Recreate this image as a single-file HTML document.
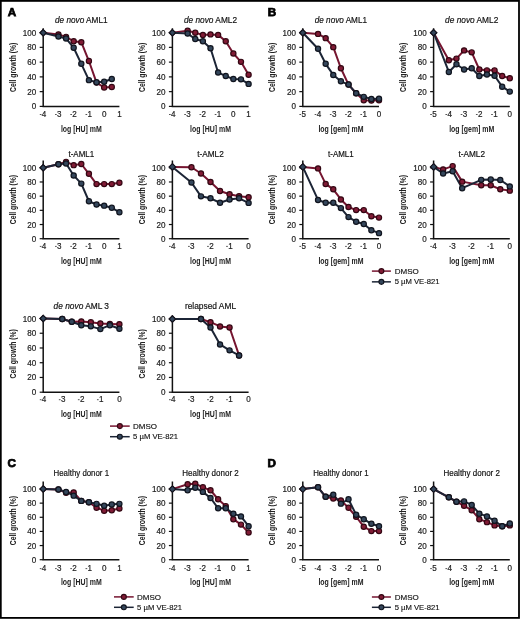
<!DOCTYPE html>
<html><head><meta charset="utf-8"><style>
html,body{margin:0;padding:0;background:#fff;}
body{width:520px;height:619px;overflow:hidden;}
svg{display:block;font-family:"Liberation Sans",sans-serif;will-change:transform;}
</style></head><body>
<svg width="520" height="619" viewBox="0 0 520 619" font-family="Liberation Sans, sans-serif">
<rect x="0" y="0" width="520" height="619" fill="#fff"/>
<text x="81.3" y="23" textLength="52.6" lengthAdjust="spacingAndGlyphs" font-size="8.8" text-anchor="middle" fill="#111" stroke="#111" stroke-width="0.18"><tspan font-style="italic">de novo</tspan> AML1</text>
<text transform="translate(15.7,67.35) rotate(-90) scale(0.79,1)" font-size="8.6" font-weight="bold" text-anchor="middle" fill="#222">Cell growth (%)</text>
<line x1="39.7" y1="106.4" x2="43.2" y2="106.4" stroke="#111" stroke-width="1.2"/>
<text transform="translate(36.3,109.4) scale(0.92,1)" font-size="8.8" text-anchor="end" fill="#222" stroke="#222" stroke-width="0.2">0</text>
<line x1="39.7" y1="91.64" x2="43.2" y2="91.64" stroke="#111" stroke-width="1.2"/>
<text transform="translate(36.3,94.64) scale(0.92,1)" font-size="8.8" text-anchor="end" fill="#222" stroke="#222" stroke-width="0.2">20</text>
<line x1="39.7" y1="76.88" x2="43.2" y2="76.88" stroke="#111" stroke-width="1.2"/>
<text transform="translate(36.3,79.88) scale(0.92,1)" font-size="8.8" text-anchor="end" fill="#222" stroke="#222" stroke-width="0.2">40</text>
<line x1="39.7" y1="62.12" x2="43.2" y2="62.12" stroke="#111" stroke-width="1.2"/>
<text transform="translate(36.3,65.12) scale(0.92,1)" font-size="8.8" text-anchor="end" fill="#222" stroke="#222" stroke-width="0.2">60</text>
<line x1="39.7" y1="47.36" x2="43.2" y2="47.36" stroke="#111" stroke-width="1.2"/>
<text transform="translate(36.3,50.36) scale(0.92,1)" font-size="8.8" text-anchor="end" fill="#222" stroke="#222" stroke-width="0.2">80</text>
<line x1="39.7" y1="32.6" x2="43.2" y2="32.6" stroke="#111" stroke-width="1.2"/>
<text transform="translate(36.3,35.6) scale(0.92,1)" font-size="8.8" text-anchor="end" fill="#222" stroke="#222" stroke-width="0.2">100</text>
<path d="M43.2 28.3V106.4H119.4" fill="none" stroke="#111" stroke-width="1.5"/>
<text transform="translate(44.1,117) scale(0.92,1)" font-size="8.8" text-anchor="middle" fill="#222" stroke="#222" stroke-width="0.2">4</text>
<rect x="39.8" y="114" width="1.7" height="1" fill="#555"/>
<text transform="translate(59.34,117) scale(0.92,1)" font-size="8.8" text-anchor="middle" fill="#222" stroke="#222" stroke-width="0.2">3</text>
<rect x="55.04" y="114" width="1.7" height="1" fill="#555"/>
<text transform="translate(74.58,117) scale(0.92,1)" font-size="8.8" text-anchor="middle" fill="#222" stroke="#222" stroke-width="0.2">2</text>
<rect x="70.28" y="114" width="1.7" height="1" fill="#555"/>
<text transform="translate(89.82,117) scale(0.92,1)" font-size="8.8" text-anchor="middle" fill="#222" stroke="#222" stroke-width="0.2">1</text>
<rect x="85.52" y="114" width="1.7" height="1" fill="#555"/>
<text transform="translate(104.16,117) scale(0.92,1)" font-size="8.8" text-anchor="middle" fill="#222" stroke="#222" stroke-width="0.2">0</text>
<text transform="translate(119.4,117) scale(0.92,1)" font-size="8.8" text-anchor="middle" fill="#222" stroke="#222" stroke-width="0.2">1</text>
<text transform="translate(81.3,131.6) scale(0.78,1)" font-size="8.9" font-weight="bold" text-anchor="middle" fill="#222">log [HU] mM</text>
<polyline points="43.2,32.76 58.44,34.39 66.06,36.84 73.68,41.25 81.3,42.24 88.92,61.03 96.54,82.61 104.16,87.51 111.78,87.02" fill="none" stroke="#761530" stroke-width="2" stroke-linejoin="round"/>
<polyline points="43.2,32.76 58.44,36.51 66.06,38.48 73.68,47.79 81.3,63.81 88.92,80.16 96.54,82.28 104.16,81.79 111.78,79.01" fill="none" stroke="#1c2536" stroke-width="2" stroke-linejoin="round"/>
<path d="M43.2 29.56L46.4 32.76L43.2 35.96L40 32.76Z" fill="#801b35" stroke="#330713" stroke-width="1.1"/>
<circle cx="58.44" cy="34.39" r="2.6" fill="#801b35" stroke="#330713" stroke-width="1.2"/>
<circle cx="66.06" cy="36.84" r="2.6" fill="#801b35" stroke="#330713" stroke-width="1.2"/>
<circle cx="73.68" cy="41.25" r="2.6" fill="#801b35" stroke="#330713" stroke-width="1.2"/>
<circle cx="81.3" cy="42.24" r="2.6" fill="#801b35" stroke="#330713" stroke-width="1.2"/>
<circle cx="88.92" cy="61.03" r="2.6" fill="#801b35" stroke="#330713" stroke-width="1.2"/>
<circle cx="96.54" cy="82.61" r="2.6" fill="#801b35" stroke="#330713" stroke-width="1.2"/>
<circle cx="104.16" cy="87.51" r="2.6" fill="#801b35" stroke="#330713" stroke-width="1.2"/>
<circle cx="111.78" cy="87.02" r="2.6" fill="#801b35" stroke="#330713" stroke-width="1.2"/>
<path d="M43.2 29.56L46.4 32.76L43.2 35.96L40 32.76Z" fill="#34465b" stroke="#10141e" stroke-width="1.1"/>
<circle cx="58.44" cy="36.51" r="2.6" fill="#34465b" stroke="#10141e" stroke-width="1.2"/>
<circle cx="66.06" cy="38.48" r="2.6" fill="#34465b" stroke="#10141e" stroke-width="1.2"/>
<circle cx="73.68" cy="47.79" r="2.6" fill="#34465b" stroke="#10141e" stroke-width="1.2"/>
<circle cx="81.3" cy="63.81" r="2.6" fill="#34465b" stroke="#10141e" stroke-width="1.2"/>
<circle cx="88.92" cy="80.16" r="2.6" fill="#34465b" stroke="#10141e" stroke-width="1.2"/>
<circle cx="96.54" cy="82.28" r="2.6" fill="#34465b" stroke="#10141e" stroke-width="1.2"/>
<circle cx="104.16" cy="81.79" r="2.6" fill="#34465b" stroke="#10141e" stroke-width="1.2"/>
<circle cx="111.78" cy="79.01" r="2.6" fill="#34465b" stroke="#10141e" stroke-width="1.2"/>
<text x="210.5" y="23" textLength="53.1" lengthAdjust="spacingAndGlyphs" font-size="8.8" text-anchor="middle" fill="#111" stroke="#111" stroke-width="0.18"><tspan font-style="italic">de novo</tspan> AML2</text>
<text transform="translate(144.9,67.35) rotate(-90) scale(0.79,1)" font-size="8.6" font-weight="bold" text-anchor="middle" fill="#222">Cell growth (%)</text>
<line x1="168.9" y1="106.4" x2="172.4" y2="106.4" stroke="#111" stroke-width="1.2"/>
<text transform="translate(165.5,109.4) scale(0.92,1)" font-size="8.8" text-anchor="end" fill="#222" stroke="#222" stroke-width="0.2">0</text>
<line x1="168.9" y1="91.64" x2="172.4" y2="91.64" stroke="#111" stroke-width="1.2"/>
<text transform="translate(165.5,94.64) scale(0.92,1)" font-size="8.8" text-anchor="end" fill="#222" stroke="#222" stroke-width="0.2">20</text>
<line x1="168.9" y1="76.88" x2="172.4" y2="76.88" stroke="#111" stroke-width="1.2"/>
<text transform="translate(165.5,79.88) scale(0.92,1)" font-size="8.8" text-anchor="end" fill="#222" stroke="#222" stroke-width="0.2">40</text>
<line x1="168.9" y1="62.12" x2="172.4" y2="62.12" stroke="#111" stroke-width="1.2"/>
<text transform="translate(165.5,65.12) scale(0.92,1)" font-size="8.8" text-anchor="end" fill="#222" stroke="#222" stroke-width="0.2">60</text>
<line x1="168.9" y1="47.36" x2="172.4" y2="47.36" stroke="#111" stroke-width="1.2"/>
<text transform="translate(165.5,50.36) scale(0.92,1)" font-size="8.8" text-anchor="end" fill="#222" stroke="#222" stroke-width="0.2">80</text>
<line x1="168.9" y1="32.6" x2="172.4" y2="32.6" stroke="#111" stroke-width="1.2"/>
<text transform="translate(165.5,35.6) scale(0.92,1)" font-size="8.8" text-anchor="end" fill="#222" stroke="#222" stroke-width="0.2">100</text>
<path d="M172.4 28.3V106.4H248.6" fill="none" stroke="#111" stroke-width="1.5"/>
<text transform="translate(173.3,117) scale(0.92,1)" font-size="8.8" text-anchor="middle" fill="#222" stroke="#222" stroke-width="0.2">4</text>
<rect x="169" y="114" width="1.7" height="1" fill="#555"/>
<text transform="translate(188.54,117) scale(0.92,1)" font-size="8.8" text-anchor="middle" fill="#222" stroke="#222" stroke-width="0.2">3</text>
<rect x="184.24" y="114" width="1.7" height="1" fill="#555"/>
<text transform="translate(203.78,117) scale(0.92,1)" font-size="8.8" text-anchor="middle" fill="#222" stroke="#222" stroke-width="0.2">2</text>
<rect x="199.48" y="114" width="1.7" height="1" fill="#555"/>
<text transform="translate(219.02,117) scale(0.92,1)" font-size="8.8" text-anchor="middle" fill="#222" stroke="#222" stroke-width="0.2">1</text>
<rect x="214.72" y="114" width="1.7" height="1" fill="#555"/>
<text transform="translate(233.36,117) scale(0.92,1)" font-size="8.8" text-anchor="middle" fill="#222" stroke="#222" stroke-width="0.2">0</text>
<text transform="translate(248.6,117) scale(0.92,1)" font-size="8.8" text-anchor="middle" fill="#222" stroke="#222" stroke-width="0.2">1</text>
<text transform="translate(210.5,131.6) scale(0.78,1)" font-size="8.9" font-weight="bold" text-anchor="middle" fill="#222">log [HU] mM</text>
<polyline points="172.4,32.76 187.64,30.79 195.26,32.76 202.88,34.88 210.5,34.39 218.12,34.88 225.74,41.25 233.36,53.51 240.98,61.85 248.6,74.76" fill="none" stroke="#761530" stroke-width="2" stroke-linejoin="round"/>
<polyline points="172.4,32.76 187.64,33.57 195.26,38.97 202.88,41.25 210.5,48.28 218.12,72.47 225.74,76.07 233.36,79.01 240.98,79.34 248.6,83.92" fill="none" stroke="#1c2536" stroke-width="2" stroke-linejoin="round"/>
<path d="M172.4 29.56L175.6 32.76L172.4 35.96L169.2 32.76Z" fill="#801b35" stroke="#330713" stroke-width="1.1"/>
<circle cx="187.64" cy="30.79" r="2.6" fill="#801b35" stroke="#330713" stroke-width="1.2"/>
<circle cx="195.26" cy="32.76" r="2.6" fill="#801b35" stroke="#330713" stroke-width="1.2"/>
<circle cx="202.88" cy="34.88" r="2.6" fill="#801b35" stroke="#330713" stroke-width="1.2"/>
<circle cx="210.5" cy="34.39" r="2.6" fill="#801b35" stroke="#330713" stroke-width="1.2"/>
<circle cx="218.12" cy="34.88" r="2.6" fill="#801b35" stroke="#330713" stroke-width="1.2"/>
<circle cx="225.74" cy="41.25" r="2.6" fill="#801b35" stroke="#330713" stroke-width="1.2"/>
<circle cx="233.36" cy="53.51" r="2.6" fill="#801b35" stroke="#330713" stroke-width="1.2"/>
<circle cx="240.98" cy="61.85" r="2.6" fill="#801b35" stroke="#330713" stroke-width="1.2"/>
<circle cx="248.6" cy="74.76" r="2.6" fill="#801b35" stroke="#330713" stroke-width="1.2"/>
<path d="M172.4 29.56L175.6 32.76L172.4 35.96L169.2 32.76Z" fill="#34465b" stroke="#10141e" stroke-width="1.1"/>
<circle cx="187.64" cy="33.57" r="2.6" fill="#34465b" stroke="#10141e" stroke-width="1.2"/>
<circle cx="195.26" cy="38.97" r="2.6" fill="#34465b" stroke="#10141e" stroke-width="1.2"/>
<circle cx="202.88" cy="41.25" r="2.6" fill="#34465b" stroke="#10141e" stroke-width="1.2"/>
<circle cx="210.5" cy="48.28" r="2.6" fill="#34465b" stroke="#10141e" stroke-width="1.2"/>
<circle cx="218.12" cy="72.47" r="2.6" fill="#34465b" stroke="#10141e" stroke-width="1.2"/>
<circle cx="225.74" cy="76.07" r="2.6" fill="#34465b" stroke="#10141e" stroke-width="1.2"/>
<circle cx="233.36" cy="79.01" r="2.6" fill="#34465b" stroke="#10141e" stroke-width="1.2"/>
<circle cx="240.98" cy="79.34" r="2.6" fill="#34465b" stroke="#10141e" stroke-width="1.2"/>
<circle cx="248.6" cy="83.92" r="2.6" fill="#34465b" stroke="#10141e" stroke-width="1.2"/>
<text x="340.9" y="23" textLength="52.3" lengthAdjust="spacingAndGlyphs" font-size="8.8" text-anchor="middle" fill="#111" stroke="#111" stroke-width="0.18"><tspan font-style="italic">de novo</tspan> AML1</text>
<text transform="translate(275.3,67.35) rotate(-90) scale(0.79,1)" font-size="8.6" font-weight="bold" text-anchor="middle" fill="#222">Cell growth (%)</text>
<line x1="299.3" y1="106.4" x2="302.8" y2="106.4" stroke="#111" stroke-width="1.2"/>
<text transform="translate(295.9,109.4) scale(0.92,1)" font-size="8.8" text-anchor="end" fill="#222" stroke="#222" stroke-width="0.2">0</text>
<line x1="299.3" y1="91.64" x2="302.8" y2="91.64" stroke="#111" stroke-width="1.2"/>
<text transform="translate(295.9,94.64) scale(0.92,1)" font-size="8.8" text-anchor="end" fill="#222" stroke="#222" stroke-width="0.2">20</text>
<line x1="299.3" y1="76.88" x2="302.8" y2="76.88" stroke="#111" stroke-width="1.2"/>
<text transform="translate(295.9,79.88) scale(0.92,1)" font-size="8.8" text-anchor="end" fill="#222" stroke="#222" stroke-width="0.2">40</text>
<line x1="299.3" y1="62.12" x2="302.8" y2="62.12" stroke="#111" stroke-width="1.2"/>
<text transform="translate(295.9,65.12) scale(0.92,1)" font-size="8.8" text-anchor="end" fill="#222" stroke="#222" stroke-width="0.2">60</text>
<line x1="299.3" y1="47.36" x2="302.8" y2="47.36" stroke="#111" stroke-width="1.2"/>
<text transform="translate(295.9,50.36) scale(0.92,1)" font-size="8.8" text-anchor="end" fill="#222" stroke="#222" stroke-width="0.2">80</text>
<line x1="299.3" y1="32.6" x2="302.8" y2="32.6" stroke="#111" stroke-width="1.2"/>
<text transform="translate(295.9,35.6) scale(0.92,1)" font-size="8.8" text-anchor="end" fill="#222" stroke="#222" stroke-width="0.2">100</text>
<path d="M302.8 28.3V106.4H379" fill="none" stroke="#111" stroke-width="1.5"/>
<text transform="translate(303.7,117) scale(0.92,1)" font-size="8.8" text-anchor="middle" fill="#222" stroke="#222" stroke-width="0.2">5</text>
<rect x="299.4" y="114" width="1.7" height="1" fill="#555"/>
<text transform="translate(318.94,117) scale(0.92,1)" font-size="8.8" text-anchor="middle" fill="#222" stroke="#222" stroke-width="0.2">4</text>
<rect x="314.64" y="114" width="1.7" height="1" fill="#555"/>
<text transform="translate(334.18,117) scale(0.92,1)" font-size="8.8" text-anchor="middle" fill="#222" stroke="#222" stroke-width="0.2">3</text>
<rect x="329.88" y="114" width="1.7" height="1" fill="#555"/>
<text transform="translate(349.42,117) scale(0.92,1)" font-size="8.8" text-anchor="middle" fill="#222" stroke="#222" stroke-width="0.2">2</text>
<rect x="345.12" y="114" width="1.7" height="1" fill="#555"/>
<text transform="translate(364.66,117) scale(0.92,1)" font-size="8.8" text-anchor="middle" fill="#222" stroke="#222" stroke-width="0.2">1</text>
<rect x="360.36" y="114" width="1.7" height="1" fill="#555"/>
<text transform="translate(379,117) scale(0.92,1)" font-size="8.8" text-anchor="middle" fill="#222" stroke="#222" stroke-width="0.2">0</text>
<text transform="translate(340.9,131.6) scale(0.78,1)" font-size="8.9" font-weight="bold" text-anchor="middle" fill="#222">log [gem] mM</text>
<polyline points="302.8,32.76 318.04,33.9 325.66,38.15 333.28,47.14 340.9,68.22 348.52,84.57 356.14,93.23 363.76,100.26 371.38,100.59 379,100.26" fill="none" stroke="#761530" stroke-width="2" stroke-linejoin="round"/>
<polyline points="302.8,32.76 318.04,48.77 325.66,63.81 333.28,74.93 340.9,81.3 348.52,84.57 356.14,93.23 363.76,96.83 371.38,98.95 379,98.63" fill="none" stroke="#1c2536" stroke-width="2" stroke-linejoin="round"/>
<path d="M302.8 29.56L306 32.76L302.8 35.96L299.6 32.76Z" fill="#801b35" stroke="#330713" stroke-width="1.1"/>
<circle cx="318.04" cy="33.9" r="2.6" fill="#801b35" stroke="#330713" stroke-width="1.2"/>
<circle cx="325.66" cy="38.15" r="2.6" fill="#801b35" stroke="#330713" stroke-width="1.2"/>
<circle cx="333.28" cy="47.14" r="2.6" fill="#801b35" stroke="#330713" stroke-width="1.2"/>
<circle cx="340.9" cy="68.22" r="2.6" fill="#801b35" stroke="#330713" stroke-width="1.2"/>
<circle cx="348.52" cy="84.57" r="2.6" fill="#801b35" stroke="#330713" stroke-width="1.2"/>
<circle cx="356.14" cy="93.23" r="2.6" fill="#801b35" stroke="#330713" stroke-width="1.2"/>
<circle cx="363.76" cy="100.26" r="2.6" fill="#801b35" stroke="#330713" stroke-width="1.2"/>
<circle cx="371.38" cy="100.59" r="2.6" fill="#801b35" stroke="#330713" stroke-width="1.2"/>
<circle cx="379" cy="100.26" r="2.6" fill="#801b35" stroke="#330713" stroke-width="1.2"/>
<path d="M302.8 29.56L306 32.76L302.8 35.96L299.6 32.76Z" fill="#34465b" stroke="#10141e" stroke-width="1.1"/>
<circle cx="318.04" cy="48.77" r="2.6" fill="#34465b" stroke="#10141e" stroke-width="1.2"/>
<circle cx="325.66" cy="63.81" r="2.6" fill="#34465b" stroke="#10141e" stroke-width="1.2"/>
<circle cx="333.28" cy="74.93" r="2.6" fill="#34465b" stroke="#10141e" stroke-width="1.2"/>
<circle cx="340.9" cy="81.3" r="2.6" fill="#34465b" stroke="#10141e" stroke-width="1.2"/>
<circle cx="348.52" cy="84.57" r="2.6" fill="#34465b" stroke="#10141e" stroke-width="1.2"/>
<circle cx="356.14" cy="93.23" r="2.6" fill="#34465b" stroke="#10141e" stroke-width="1.2"/>
<circle cx="363.76" cy="96.83" r="2.6" fill="#34465b" stroke="#10141e" stroke-width="1.2"/>
<circle cx="371.38" cy="98.95" r="2.6" fill="#34465b" stroke="#10141e" stroke-width="1.2"/>
<circle cx="379" cy="98.63" r="2.6" fill="#34465b" stroke="#10141e" stroke-width="1.2"/>
<text x="471.7" y="23" textLength="53.3" lengthAdjust="spacingAndGlyphs" font-size="8.8" text-anchor="middle" fill="#111" stroke="#111" stroke-width="0.18"><tspan font-style="italic">de novo</tspan> AML2</text>
<text transform="translate(406.1,67.35) rotate(-90) scale(0.79,1)" font-size="8.6" font-weight="bold" text-anchor="middle" fill="#222">Cell growth (%)</text>
<line x1="430.1" y1="106.4" x2="433.6" y2="106.4" stroke="#111" stroke-width="1.2"/>
<text transform="translate(426.7,109.4) scale(0.92,1)" font-size="8.8" text-anchor="end" fill="#222" stroke="#222" stroke-width="0.2">0</text>
<line x1="430.1" y1="91.64" x2="433.6" y2="91.64" stroke="#111" stroke-width="1.2"/>
<text transform="translate(426.7,94.64) scale(0.92,1)" font-size="8.8" text-anchor="end" fill="#222" stroke="#222" stroke-width="0.2">20</text>
<line x1="430.1" y1="76.88" x2="433.6" y2="76.88" stroke="#111" stroke-width="1.2"/>
<text transform="translate(426.7,79.88) scale(0.92,1)" font-size="8.8" text-anchor="end" fill="#222" stroke="#222" stroke-width="0.2">40</text>
<line x1="430.1" y1="62.12" x2="433.6" y2="62.12" stroke="#111" stroke-width="1.2"/>
<text transform="translate(426.7,65.12) scale(0.92,1)" font-size="8.8" text-anchor="end" fill="#222" stroke="#222" stroke-width="0.2">60</text>
<line x1="430.1" y1="47.36" x2="433.6" y2="47.36" stroke="#111" stroke-width="1.2"/>
<text transform="translate(426.7,50.36) scale(0.92,1)" font-size="8.8" text-anchor="end" fill="#222" stroke="#222" stroke-width="0.2">80</text>
<line x1="430.1" y1="32.6" x2="433.6" y2="32.6" stroke="#111" stroke-width="1.2"/>
<text transform="translate(426.7,35.6) scale(0.92,1)" font-size="8.8" text-anchor="end" fill="#222" stroke="#222" stroke-width="0.2">100</text>
<path d="M433.6 28.3V106.4H509.8" fill="none" stroke="#111" stroke-width="1.5"/>
<text transform="translate(434.5,117) scale(0.92,1)" font-size="8.8" text-anchor="middle" fill="#222" stroke="#222" stroke-width="0.2">5</text>
<rect x="430.2" y="114" width="1.7" height="1" fill="#555"/>
<text transform="translate(449.74,117) scale(0.92,1)" font-size="8.8" text-anchor="middle" fill="#222" stroke="#222" stroke-width="0.2">4</text>
<rect x="445.44" y="114" width="1.7" height="1" fill="#555"/>
<text transform="translate(464.98,117) scale(0.92,1)" font-size="8.8" text-anchor="middle" fill="#222" stroke="#222" stroke-width="0.2">3</text>
<rect x="460.68" y="114" width="1.7" height="1" fill="#555"/>
<text transform="translate(480.22,117) scale(0.92,1)" font-size="8.8" text-anchor="middle" fill="#222" stroke="#222" stroke-width="0.2">2</text>
<rect x="475.92" y="114" width="1.7" height="1" fill="#555"/>
<text transform="translate(495.46,117) scale(0.92,1)" font-size="8.8" text-anchor="middle" fill="#222" stroke="#222" stroke-width="0.2">1</text>
<rect x="491.16" y="114" width="1.7" height="1" fill="#555"/>
<text transform="translate(509.8,117) scale(0.92,1)" font-size="8.8" text-anchor="middle" fill="#222" stroke="#222" stroke-width="0.2">0</text>
<text transform="translate(471.7,131.6) scale(0.78,1)" font-size="8.9" font-weight="bold" text-anchor="middle" fill="#222">log [gem] mM</text>
<polyline points="433.6,32.76 448.84,60.22 456.46,58.58 464.08,50.41 471.7,52.37 479.32,69.53 486.94,70.35 494.56,70.35 502.18,76.07 509.8,78.2" fill="none" stroke="#761530" stroke-width="2" stroke-linejoin="round"/>
<polyline points="433.6,32.76 448.84,71.98 456.46,64.3 464.08,69.53 471.7,68.22 479.32,76.07 486.94,74.44 494.56,75.74 502.18,86.69 509.8,91.6" fill="none" stroke="#1c2536" stroke-width="2" stroke-linejoin="round"/>
<path d="M433.6 29.56L436.8 32.76L433.6 35.96L430.4 32.76Z" fill="#801b35" stroke="#330713" stroke-width="1.1"/>
<circle cx="448.84" cy="60.22" r="2.6" fill="#801b35" stroke="#330713" stroke-width="1.2"/>
<circle cx="456.46" cy="58.58" r="2.6" fill="#801b35" stroke="#330713" stroke-width="1.2"/>
<circle cx="464.08" cy="50.41" r="2.6" fill="#801b35" stroke="#330713" stroke-width="1.2"/>
<circle cx="471.7" cy="52.37" r="2.6" fill="#801b35" stroke="#330713" stroke-width="1.2"/>
<circle cx="479.32" cy="69.53" r="2.6" fill="#801b35" stroke="#330713" stroke-width="1.2"/>
<circle cx="486.94" cy="70.35" r="2.6" fill="#801b35" stroke="#330713" stroke-width="1.2"/>
<circle cx="494.56" cy="70.35" r="2.6" fill="#801b35" stroke="#330713" stroke-width="1.2"/>
<circle cx="502.18" cy="76.07" r="2.6" fill="#801b35" stroke="#330713" stroke-width="1.2"/>
<circle cx="509.8" cy="78.2" r="2.6" fill="#801b35" stroke="#330713" stroke-width="1.2"/>
<path d="M433.6 29.56L436.8 32.76L433.6 35.96L430.4 32.76Z" fill="#34465b" stroke="#10141e" stroke-width="1.1"/>
<circle cx="448.84" cy="71.98" r="2.6" fill="#34465b" stroke="#10141e" stroke-width="1.2"/>
<circle cx="456.46" cy="64.3" r="2.6" fill="#34465b" stroke="#10141e" stroke-width="1.2"/>
<circle cx="464.08" cy="69.53" r="2.6" fill="#34465b" stroke="#10141e" stroke-width="1.2"/>
<circle cx="471.7" cy="68.22" r="2.6" fill="#34465b" stroke="#10141e" stroke-width="1.2"/>
<circle cx="479.32" cy="76.07" r="2.6" fill="#34465b" stroke="#10141e" stroke-width="1.2"/>
<circle cx="486.94" cy="74.44" r="2.6" fill="#34465b" stroke="#10141e" stroke-width="1.2"/>
<circle cx="494.56" cy="75.74" r="2.6" fill="#34465b" stroke="#10141e" stroke-width="1.2"/>
<circle cx="502.18" cy="86.69" r="2.6" fill="#34465b" stroke="#10141e" stroke-width="1.2"/>
<circle cx="509.8" cy="91.6" r="2.6" fill="#34465b" stroke="#10141e" stroke-width="1.2"/>
<text x="81.3" y="156.7" textLength="25.7" lengthAdjust="spacingAndGlyphs" font-size="8.8" text-anchor="middle" fill="#111" stroke="#111" stroke-width="0.18">t-AML1</text>
<text transform="translate(15.7,199.6) rotate(-90) scale(0.79,1)" font-size="8.6" font-weight="bold" text-anchor="middle" fill="#222">Cell growth (%)</text>
<line x1="39.7" y1="238.7" x2="43.2" y2="238.7" stroke="#111" stroke-width="1.2"/>
<text transform="translate(36.3,241.7) scale(0.92,1)" font-size="8.8" text-anchor="end" fill="#222" stroke="#222" stroke-width="0.2">0</text>
<line x1="39.7" y1="224.52" x2="43.2" y2="224.52" stroke="#111" stroke-width="1.2"/>
<text transform="translate(36.3,227.52) scale(0.92,1)" font-size="8.8" text-anchor="end" fill="#222" stroke="#222" stroke-width="0.2">20</text>
<line x1="39.7" y1="210.34" x2="43.2" y2="210.34" stroke="#111" stroke-width="1.2"/>
<text transform="translate(36.3,213.34) scale(0.92,1)" font-size="8.8" text-anchor="end" fill="#222" stroke="#222" stroke-width="0.2">40</text>
<line x1="39.7" y1="196.16" x2="43.2" y2="196.16" stroke="#111" stroke-width="1.2"/>
<text transform="translate(36.3,199.16) scale(0.92,1)" font-size="8.8" text-anchor="end" fill="#222" stroke="#222" stroke-width="0.2">60</text>
<line x1="39.7" y1="181.98" x2="43.2" y2="181.98" stroke="#111" stroke-width="1.2"/>
<text transform="translate(36.3,184.98) scale(0.92,1)" font-size="8.8" text-anchor="end" fill="#222" stroke="#222" stroke-width="0.2">80</text>
<line x1="39.7" y1="167.8" x2="43.2" y2="167.8" stroke="#111" stroke-width="1.2"/>
<text transform="translate(36.3,170.8) scale(0.92,1)" font-size="8.8" text-anchor="end" fill="#222" stroke="#222" stroke-width="0.2">100</text>
<path d="M43.2 160.5V238.7H119.4" fill="none" stroke="#111" stroke-width="1.5"/>
<text transform="translate(44.1,248.9) scale(0.92,1)" font-size="8.8" text-anchor="middle" fill="#222" stroke="#222" stroke-width="0.2">4</text>
<rect x="39.8" y="245.9" width="1.7" height="1" fill="#555"/>
<text transform="translate(59.34,248.9) scale(0.92,1)" font-size="8.8" text-anchor="middle" fill="#222" stroke="#222" stroke-width="0.2">3</text>
<rect x="55.04" y="245.9" width="1.7" height="1" fill="#555"/>
<text transform="translate(74.58,248.9) scale(0.92,1)" font-size="8.8" text-anchor="middle" fill="#222" stroke="#222" stroke-width="0.2">2</text>
<rect x="70.28" y="245.9" width="1.7" height="1" fill="#555"/>
<text transform="translate(89.82,248.9) scale(0.92,1)" font-size="8.8" text-anchor="middle" fill="#222" stroke="#222" stroke-width="0.2">1</text>
<rect x="85.52" y="245.9" width="1.7" height="1" fill="#555"/>
<text transform="translate(104.16,248.9) scale(0.92,1)" font-size="8.8" text-anchor="middle" fill="#222" stroke="#222" stroke-width="0.2">0</text>
<text transform="translate(119.4,248.9) scale(0.92,1)" font-size="8.8" text-anchor="middle" fill="#222" stroke="#222" stroke-width="0.2">1</text>
<text transform="translate(81.3,263.9) scale(0.78,1)" font-size="8.9" font-weight="bold" text-anchor="middle" fill="#222">log [HU] mM</text>
<polyline points="43.2,167.75 58.44,164.32 66.06,161.86 73.68,165.13 81.3,163.99 88.92,173.8 96.54,184.09 104.16,184.09 111.78,184.09 119.4,182.79" fill="none" stroke="#761530" stroke-width="2" stroke-linejoin="round"/>
<polyline points="43.2,167.75 58.44,164.32 66.06,163.5 73.68,175.43 81.3,183.6 88.92,201.26 96.54,204.53 104.16,205.67 111.78,207.8 119.4,212.21" fill="none" stroke="#1c2536" stroke-width="2" stroke-linejoin="round"/>
<path d="M43.2 164.55L46.4 167.75L43.2 170.95L40 167.75Z" fill="#801b35" stroke="#330713" stroke-width="1.1"/>
<circle cx="58.44" cy="164.32" r="2.6" fill="#801b35" stroke="#330713" stroke-width="1.2"/>
<circle cx="66.06" cy="161.86" r="2.6" fill="#801b35" stroke="#330713" stroke-width="1.2"/>
<circle cx="73.68" cy="165.13" r="2.6" fill="#801b35" stroke="#330713" stroke-width="1.2"/>
<circle cx="81.3" cy="163.99" r="2.6" fill="#801b35" stroke="#330713" stroke-width="1.2"/>
<circle cx="88.92" cy="173.8" r="2.6" fill="#801b35" stroke="#330713" stroke-width="1.2"/>
<circle cx="96.54" cy="184.09" r="2.6" fill="#801b35" stroke="#330713" stroke-width="1.2"/>
<circle cx="104.16" cy="184.09" r="2.6" fill="#801b35" stroke="#330713" stroke-width="1.2"/>
<circle cx="111.78" cy="184.09" r="2.6" fill="#801b35" stroke="#330713" stroke-width="1.2"/>
<circle cx="119.4" cy="182.79" r="2.6" fill="#801b35" stroke="#330713" stroke-width="1.2"/>
<path d="M43.2 164.55L46.4 167.75L43.2 170.95L40 167.75Z" fill="#34465b" stroke="#10141e" stroke-width="1.1"/>
<circle cx="58.44" cy="164.32" r="2.6" fill="#34465b" stroke="#10141e" stroke-width="1.2"/>
<circle cx="66.06" cy="163.5" r="2.6" fill="#34465b" stroke="#10141e" stroke-width="1.2"/>
<circle cx="73.68" cy="175.43" r="2.6" fill="#34465b" stroke="#10141e" stroke-width="1.2"/>
<circle cx="81.3" cy="183.6" r="2.6" fill="#34465b" stroke="#10141e" stroke-width="1.2"/>
<circle cx="88.92" cy="201.26" r="2.6" fill="#34465b" stroke="#10141e" stroke-width="1.2"/>
<circle cx="96.54" cy="204.53" r="2.6" fill="#34465b" stroke="#10141e" stroke-width="1.2"/>
<circle cx="104.16" cy="205.67" r="2.6" fill="#34465b" stroke="#10141e" stroke-width="1.2"/>
<circle cx="111.78" cy="207.8" r="2.6" fill="#34465b" stroke="#10141e" stroke-width="1.2"/>
<circle cx="119.4" cy="212.21" r="2.6" fill="#34465b" stroke="#10141e" stroke-width="1.2"/>
<text x="210.5" y="156.7" textLength="26.6" lengthAdjust="spacingAndGlyphs" font-size="8.8" text-anchor="middle" fill="#111" stroke="#111" stroke-width="0.18">t-AML2</text>
<text transform="translate(144.9,199.6) rotate(-90) scale(0.79,1)" font-size="8.6" font-weight="bold" text-anchor="middle" fill="#222">Cell growth (%)</text>
<line x1="168.9" y1="238.7" x2="172.4" y2="238.7" stroke="#111" stroke-width="1.2"/>
<text transform="translate(165.5,241.7) scale(0.92,1)" font-size="8.8" text-anchor="end" fill="#222" stroke="#222" stroke-width="0.2">0</text>
<line x1="168.9" y1="224.52" x2="172.4" y2="224.52" stroke="#111" stroke-width="1.2"/>
<text transform="translate(165.5,227.52) scale(0.92,1)" font-size="8.8" text-anchor="end" fill="#222" stroke="#222" stroke-width="0.2">20</text>
<line x1="168.9" y1="210.34" x2="172.4" y2="210.34" stroke="#111" stroke-width="1.2"/>
<text transform="translate(165.5,213.34) scale(0.92,1)" font-size="8.8" text-anchor="end" fill="#222" stroke="#222" stroke-width="0.2">40</text>
<line x1="168.9" y1="196.16" x2="172.4" y2="196.16" stroke="#111" stroke-width="1.2"/>
<text transform="translate(165.5,199.16) scale(0.92,1)" font-size="8.8" text-anchor="end" fill="#222" stroke="#222" stroke-width="0.2">60</text>
<line x1="168.9" y1="181.98" x2="172.4" y2="181.98" stroke="#111" stroke-width="1.2"/>
<text transform="translate(165.5,184.98) scale(0.92,1)" font-size="8.8" text-anchor="end" fill="#222" stroke="#222" stroke-width="0.2">80</text>
<line x1="168.9" y1="167.8" x2="172.4" y2="167.8" stroke="#111" stroke-width="1.2"/>
<text transform="translate(165.5,170.8) scale(0.92,1)" font-size="8.8" text-anchor="end" fill="#222" stroke="#222" stroke-width="0.2">100</text>
<path d="M172.4 160.5V238.7H248.6" fill="none" stroke="#111" stroke-width="1.5"/>
<text transform="translate(173.3,248.9) scale(0.92,1)" font-size="8.8" text-anchor="middle" fill="#222" stroke="#222" stroke-width="0.2">4</text>
<rect x="169" y="245.9" width="1.7" height="1" fill="#555"/>
<text transform="translate(192.35,248.9) scale(0.92,1)" font-size="8.8" text-anchor="middle" fill="#222" stroke="#222" stroke-width="0.2">3</text>
<rect x="188.05" y="245.9" width="1.7" height="1" fill="#555"/>
<text transform="translate(211.4,248.9) scale(0.92,1)" font-size="8.8" text-anchor="middle" fill="#222" stroke="#222" stroke-width="0.2">2</text>
<rect x="207.1" y="245.9" width="1.7" height="1" fill="#555"/>
<text transform="translate(230.45,248.9) scale(0.92,1)" font-size="8.8" text-anchor="middle" fill="#222" stroke="#222" stroke-width="0.2">1</text>
<rect x="226.15" y="245.9" width="1.7" height="1" fill="#555"/>
<text transform="translate(248.6,248.9) scale(0.92,1)" font-size="8.8" text-anchor="middle" fill="#222" stroke="#222" stroke-width="0.2">0</text>
<text transform="translate(210.5,263.9) scale(0.78,1)" font-size="8.9" font-weight="bold" text-anchor="middle" fill="#222">log [HU] mM</text>
<polyline points="172.4,166.93 191.45,167.26 200.98,173.47 210.5,181.97 220.03,190.96 229.55,194.23 239.07,196.19 248.6,197.17" fill="none" stroke="#761530" stroke-width="2" stroke-linejoin="round"/>
<polyline points="172.4,166.93 191.45,182.46 200.98,196.35 210.5,198.31 220.03,202.73 229.55,199.46 239.07,198.31 248.6,202.89" fill="none" stroke="#1c2536" stroke-width="2" stroke-linejoin="round"/>
<path d="M172.4 163.73L175.6 166.93L172.4 170.13L169.2 166.93Z" fill="#801b35" stroke="#330713" stroke-width="1.1"/>
<circle cx="191.45" cy="167.26" r="2.6" fill="#801b35" stroke="#330713" stroke-width="1.2"/>
<circle cx="200.98" cy="173.47" r="2.6" fill="#801b35" stroke="#330713" stroke-width="1.2"/>
<circle cx="210.5" cy="181.97" r="2.6" fill="#801b35" stroke="#330713" stroke-width="1.2"/>
<circle cx="220.03" cy="190.96" r="2.6" fill="#801b35" stroke="#330713" stroke-width="1.2"/>
<circle cx="229.55" cy="194.23" r="2.6" fill="#801b35" stroke="#330713" stroke-width="1.2"/>
<circle cx="239.07" cy="196.19" r="2.6" fill="#801b35" stroke="#330713" stroke-width="1.2"/>
<circle cx="248.6" cy="197.17" r="2.6" fill="#801b35" stroke="#330713" stroke-width="1.2"/>
<path d="M172.4 163.73L175.6 166.93L172.4 170.13L169.2 166.93Z" fill="#34465b" stroke="#10141e" stroke-width="1.1"/>
<circle cx="191.45" cy="182.46" r="2.6" fill="#34465b" stroke="#10141e" stroke-width="1.2"/>
<circle cx="200.98" cy="196.35" r="2.6" fill="#34465b" stroke="#10141e" stroke-width="1.2"/>
<circle cx="210.5" cy="198.31" r="2.6" fill="#34465b" stroke="#10141e" stroke-width="1.2"/>
<circle cx="220.03" cy="202.73" r="2.6" fill="#34465b" stroke="#10141e" stroke-width="1.2"/>
<circle cx="229.55" cy="199.46" r="2.6" fill="#34465b" stroke="#10141e" stroke-width="1.2"/>
<circle cx="239.07" cy="198.31" r="2.6" fill="#34465b" stroke="#10141e" stroke-width="1.2"/>
<circle cx="248.6" cy="202.89" r="2.6" fill="#34465b" stroke="#10141e" stroke-width="1.2"/>
<text x="340.9" y="156.7" textLength="25.7" lengthAdjust="spacingAndGlyphs" font-size="8.8" text-anchor="middle" fill="#111" stroke="#111" stroke-width="0.18">t-AML1</text>
<text transform="translate(275.3,199.6) rotate(-90) scale(0.79,1)" font-size="8.6" font-weight="bold" text-anchor="middle" fill="#222">Cell growth (%)</text>
<line x1="299.3" y1="238.7" x2="302.8" y2="238.7" stroke="#111" stroke-width="1.2"/>
<text transform="translate(295.9,241.7) scale(0.92,1)" font-size="8.8" text-anchor="end" fill="#222" stroke="#222" stroke-width="0.2">0</text>
<line x1="299.3" y1="224.52" x2="302.8" y2="224.52" stroke="#111" stroke-width="1.2"/>
<text transform="translate(295.9,227.52) scale(0.92,1)" font-size="8.8" text-anchor="end" fill="#222" stroke="#222" stroke-width="0.2">20</text>
<line x1="299.3" y1="210.34" x2="302.8" y2="210.34" stroke="#111" stroke-width="1.2"/>
<text transform="translate(295.9,213.34) scale(0.92,1)" font-size="8.8" text-anchor="end" fill="#222" stroke="#222" stroke-width="0.2">40</text>
<line x1="299.3" y1="196.16" x2="302.8" y2="196.16" stroke="#111" stroke-width="1.2"/>
<text transform="translate(295.9,199.16) scale(0.92,1)" font-size="8.8" text-anchor="end" fill="#222" stroke="#222" stroke-width="0.2">60</text>
<line x1="299.3" y1="181.98" x2="302.8" y2="181.98" stroke="#111" stroke-width="1.2"/>
<text transform="translate(295.9,184.98) scale(0.92,1)" font-size="8.8" text-anchor="end" fill="#222" stroke="#222" stroke-width="0.2">80</text>
<line x1="299.3" y1="167.8" x2="302.8" y2="167.8" stroke="#111" stroke-width="1.2"/>
<text transform="translate(295.9,170.8) scale(0.92,1)" font-size="8.8" text-anchor="end" fill="#222" stroke="#222" stroke-width="0.2">100</text>
<path d="M302.8 160.5V238.7H379" fill="none" stroke="#111" stroke-width="1.5"/>
<text transform="translate(303.7,248.9) scale(0.92,1)" font-size="8.8" text-anchor="middle" fill="#222" stroke="#222" stroke-width="0.2">5</text>
<rect x="299.4" y="245.9" width="1.7" height="1" fill="#555"/>
<text transform="translate(318.94,248.9) scale(0.92,1)" font-size="8.8" text-anchor="middle" fill="#222" stroke="#222" stroke-width="0.2">4</text>
<rect x="314.64" y="245.9" width="1.7" height="1" fill="#555"/>
<text transform="translate(334.18,248.9) scale(0.92,1)" font-size="8.8" text-anchor="middle" fill="#222" stroke="#222" stroke-width="0.2">3</text>
<rect x="329.88" y="245.9" width="1.7" height="1" fill="#555"/>
<text transform="translate(349.42,248.9) scale(0.92,1)" font-size="8.8" text-anchor="middle" fill="#222" stroke="#222" stroke-width="0.2">2</text>
<rect x="345.12" y="245.9" width="1.7" height="1" fill="#555"/>
<text transform="translate(364.66,248.9) scale(0.92,1)" font-size="8.8" text-anchor="middle" fill="#222" stroke="#222" stroke-width="0.2">1</text>
<rect x="360.36" y="245.9" width="1.7" height="1" fill="#555"/>
<text transform="translate(379,248.9) scale(0.92,1)" font-size="8.8" text-anchor="middle" fill="#222" stroke="#222" stroke-width="0.2">0</text>
<text transform="translate(340.9,263.9) scale(0.78,1)" font-size="8.9" font-weight="bold" text-anchor="middle" fill="#222">log [gem] mM</text>
<polyline points="302.8,166.93 318.04,168.4 325.66,183.93 333.28,189.32 340.9,199.46 348.52,206.98 356.14,210.08 363.76,210.08 371.38,216.29 379,217.6" fill="none" stroke="#761530" stroke-width="2" stroke-linejoin="round"/>
<polyline points="302.8,166.93 318.04,199.95 325.66,202.73 333.28,202.73 340.9,208.12 348.52,217.11 356.14,221.69 363.76,223.98 371.38,230.19 379,233.13" fill="none" stroke="#1c2536" stroke-width="2" stroke-linejoin="round"/>
<path d="M302.8 163.73L306 166.93L302.8 170.13L299.6 166.93Z" fill="#801b35" stroke="#330713" stroke-width="1.1"/>
<circle cx="318.04" cy="168.4" r="2.6" fill="#801b35" stroke="#330713" stroke-width="1.2"/>
<circle cx="325.66" cy="183.93" r="2.6" fill="#801b35" stroke="#330713" stroke-width="1.2"/>
<circle cx="333.28" cy="189.32" r="2.6" fill="#801b35" stroke="#330713" stroke-width="1.2"/>
<circle cx="340.9" cy="199.46" r="2.6" fill="#801b35" stroke="#330713" stroke-width="1.2"/>
<circle cx="348.52" cy="206.98" r="2.6" fill="#801b35" stroke="#330713" stroke-width="1.2"/>
<circle cx="356.14" cy="210.08" r="2.6" fill="#801b35" stroke="#330713" stroke-width="1.2"/>
<circle cx="363.76" cy="210.08" r="2.6" fill="#801b35" stroke="#330713" stroke-width="1.2"/>
<circle cx="371.38" cy="216.29" r="2.6" fill="#801b35" stroke="#330713" stroke-width="1.2"/>
<circle cx="379" cy="217.6" r="2.6" fill="#801b35" stroke="#330713" stroke-width="1.2"/>
<path d="M302.8 163.73L306 166.93L302.8 170.13L299.6 166.93Z" fill="#34465b" stroke="#10141e" stroke-width="1.1"/>
<circle cx="318.04" cy="199.95" r="2.6" fill="#34465b" stroke="#10141e" stroke-width="1.2"/>
<circle cx="325.66" cy="202.73" r="2.6" fill="#34465b" stroke="#10141e" stroke-width="1.2"/>
<circle cx="333.28" cy="202.73" r="2.6" fill="#34465b" stroke="#10141e" stroke-width="1.2"/>
<circle cx="340.9" cy="208.12" r="2.6" fill="#34465b" stroke="#10141e" stroke-width="1.2"/>
<circle cx="348.52" cy="217.11" r="2.6" fill="#34465b" stroke="#10141e" stroke-width="1.2"/>
<circle cx="356.14" cy="221.69" r="2.6" fill="#34465b" stroke="#10141e" stroke-width="1.2"/>
<circle cx="363.76" cy="223.98" r="2.6" fill="#34465b" stroke="#10141e" stroke-width="1.2"/>
<circle cx="371.38" cy="230.19" r="2.6" fill="#34465b" stroke="#10141e" stroke-width="1.2"/>
<circle cx="379" cy="233.13" r="2.6" fill="#34465b" stroke="#10141e" stroke-width="1.2"/>
<text x="471.7" y="156.7" textLength="26.6" lengthAdjust="spacingAndGlyphs" font-size="8.8" text-anchor="middle" fill="#111" stroke="#111" stroke-width="0.18">t-AML2</text>
<text transform="translate(406.1,199.6) rotate(-90) scale(0.79,1)" font-size="8.6" font-weight="bold" text-anchor="middle" fill="#222">Cell growth (%)</text>
<line x1="430.1" y1="238.7" x2="433.6" y2="238.7" stroke="#111" stroke-width="1.2"/>
<text transform="translate(426.7,241.7) scale(0.92,1)" font-size="8.8" text-anchor="end" fill="#222" stroke="#222" stroke-width="0.2">0</text>
<line x1="430.1" y1="224.52" x2="433.6" y2="224.52" stroke="#111" stroke-width="1.2"/>
<text transform="translate(426.7,227.52) scale(0.92,1)" font-size="8.8" text-anchor="end" fill="#222" stroke="#222" stroke-width="0.2">20</text>
<line x1="430.1" y1="210.34" x2="433.6" y2="210.34" stroke="#111" stroke-width="1.2"/>
<text transform="translate(426.7,213.34) scale(0.92,1)" font-size="8.8" text-anchor="end" fill="#222" stroke="#222" stroke-width="0.2">40</text>
<line x1="430.1" y1="196.16" x2="433.6" y2="196.16" stroke="#111" stroke-width="1.2"/>
<text transform="translate(426.7,199.16) scale(0.92,1)" font-size="8.8" text-anchor="end" fill="#222" stroke="#222" stroke-width="0.2">60</text>
<line x1="430.1" y1="181.98" x2="433.6" y2="181.98" stroke="#111" stroke-width="1.2"/>
<text transform="translate(426.7,184.98) scale(0.92,1)" font-size="8.8" text-anchor="end" fill="#222" stroke="#222" stroke-width="0.2">80</text>
<line x1="430.1" y1="167.8" x2="433.6" y2="167.8" stroke="#111" stroke-width="1.2"/>
<text transform="translate(426.7,170.8) scale(0.92,1)" font-size="8.8" text-anchor="end" fill="#222" stroke="#222" stroke-width="0.2">100</text>
<path d="M433.6 160.5V238.7H509.8" fill="none" stroke="#111" stroke-width="1.5"/>
<text transform="translate(434.5,248.9) scale(0.92,1)" font-size="8.8" text-anchor="middle" fill="#222" stroke="#222" stroke-width="0.2">4</text>
<rect x="430.2" y="245.9" width="1.7" height="1" fill="#555"/>
<text transform="translate(453.55,248.9) scale(0.92,1)" font-size="8.8" text-anchor="middle" fill="#222" stroke="#222" stroke-width="0.2">3</text>
<rect x="449.25" y="245.9" width="1.7" height="1" fill="#555"/>
<text transform="translate(472.6,248.9) scale(0.92,1)" font-size="8.8" text-anchor="middle" fill="#222" stroke="#222" stroke-width="0.2">2</text>
<rect x="468.3" y="245.9" width="1.7" height="1" fill="#555"/>
<text transform="translate(491.65,248.9) scale(0.92,1)" font-size="8.8" text-anchor="middle" fill="#222" stroke="#222" stroke-width="0.2">1</text>
<rect x="487.35" y="245.9" width="1.7" height="1" fill="#555"/>
<text transform="translate(509.8,248.9) scale(0.92,1)" font-size="8.8" text-anchor="middle" fill="#222" stroke="#222" stroke-width="0.2">0</text>
<text transform="translate(471.7,263.9) scale(0.78,1)" font-size="8.9" font-weight="bold" text-anchor="middle" fill="#222">log [gem] mM</text>
<polyline points="433.6,166.93 443.12,169.38 452.65,166.11 462.18,181.64 481.23,185.24 490.75,185.24 500.28,189.32 509.8,190.63" fill="none" stroke="#761530" stroke-width="2" stroke-linejoin="round"/>
<polyline points="433.6,166.93 443.12,173.47 452.65,171.35 462.18,188.18 481.23,179.84 490.75,179.52 500.28,180.01 509.8,186.38" fill="none" stroke="#1c2536" stroke-width="2" stroke-linejoin="round"/>
<path d="M433.6 163.73L436.8 166.93L433.6 170.13L430.4 166.93Z" fill="#801b35" stroke="#330713" stroke-width="1.1"/>
<circle cx="443.12" cy="169.38" r="2.6" fill="#801b35" stroke="#330713" stroke-width="1.2"/>
<circle cx="452.65" cy="166.11" r="2.6" fill="#801b35" stroke="#330713" stroke-width="1.2"/>
<circle cx="462.18" cy="181.64" r="2.6" fill="#801b35" stroke="#330713" stroke-width="1.2"/>
<circle cx="481.23" cy="185.24" r="2.6" fill="#801b35" stroke="#330713" stroke-width="1.2"/>
<circle cx="490.75" cy="185.24" r="2.6" fill="#801b35" stroke="#330713" stroke-width="1.2"/>
<circle cx="500.28" cy="189.32" r="2.6" fill="#801b35" stroke="#330713" stroke-width="1.2"/>
<circle cx="509.8" cy="190.63" r="2.6" fill="#801b35" stroke="#330713" stroke-width="1.2"/>
<path d="M433.6 163.73L436.8 166.93L433.6 170.13L430.4 166.93Z" fill="#34465b" stroke="#10141e" stroke-width="1.1"/>
<circle cx="443.12" cy="173.47" r="2.6" fill="#34465b" stroke="#10141e" stroke-width="1.2"/>
<circle cx="452.65" cy="171.35" r="2.6" fill="#34465b" stroke="#10141e" stroke-width="1.2"/>
<circle cx="462.18" cy="188.18" r="2.6" fill="#34465b" stroke="#10141e" stroke-width="1.2"/>
<circle cx="481.23" cy="179.84" r="2.6" fill="#34465b" stroke="#10141e" stroke-width="1.2"/>
<circle cx="490.75" cy="179.52" r="2.6" fill="#34465b" stroke="#10141e" stroke-width="1.2"/>
<circle cx="500.28" cy="180.01" r="2.6" fill="#34465b" stroke="#10141e" stroke-width="1.2"/>
<circle cx="509.8" cy="186.38" r="2.6" fill="#34465b" stroke="#10141e" stroke-width="1.2"/>
<text x="81.3" y="308.8" textLength="55.4" lengthAdjust="spacingAndGlyphs" font-size="8.8" text-anchor="middle" fill="#111" stroke="#111" stroke-width="0.18"><tspan font-style="italic">de novo</tspan> AML 3</text>
<text transform="translate(15.7,353.85) rotate(-90) scale(0.79,1)" font-size="8.6" font-weight="bold" text-anchor="middle" fill="#222">Cell growth (%)</text>
<line x1="39.7" y1="392.2" x2="43.2" y2="392.2" stroke="#111" stroke-width="1.2"/>
<text transform="translate(36.3,395.2) scale(0.92,1)" font-size="8.8" text-anchor="end" fill="#222" stroke="#222" stroke-width="0.2">0</text>
<line x1="39.7" y1="377.46" x2="43.2" y2="377.46" stroke="#111" stroke-width="1.2"/>
<text transform="translate(36.3,380.46) scale(0.92,1)" font-size="8.8" text-anchor="end" fill="#222" stroke="#222" stroke-width="0.2">20</text>
<line x1="39.7" y1="362.72" x2="43.2" y2="362.72" stroke="#111" stroke-width="1.2"/>
<text transform="translate(36.3,365.72) scale(0.92,1)" font-size="8.8" text-anchor="end" fill="#222" stroke="#222" stroke-width="0.2">40</text>
<line x1="39.7" y1="347.98" x2="43.2" y2="347.98" stroke="#111" stroke-width="1.2"/>
<text transform="translate(36.3,350.98) scale(0.92,1)" font-size="8.8" text-anchor="end" fill="#222" stroke="#222" stroke-width="0.2">60</text>
<line x1="39.7" y1="333.24" x2="43.2" y2="333.24" stroke="#111" stroke-width="1.2"/>
<text transform="translate(36.3,336.24) scale(0.92,1)" font-size="8.8" text-anchor="end" fill="#222" stroke="#222" stroke-width="0.2">80</text>
<line x1="39.7" y1="318.5" x2="43.2" y2="318.5" stroke="#111" stroke-width="1.2"/>
<text transform="translate(36.3,321.5) scale(0.92,1)" font-size="8.8" text-anchor="end" fill="#222" stroke="#222" stroke-width="0.2">100</text>
<path d="M43.2 315.5V392.2H119.4" fill="none" stroke="#111" stroke-width="1.5"/>
<text transform="translate(44.1,402.2) scale(0.92,1)" font-size="8.8" text-anchor="middle" fill="#222" stroke="#222" stroke-width="0.2">4</text>
<rect x="39.8" y="399.2" width="1.7" height="1" fill="#555"/>
<text transform="translate(63.15,402.2) scale(0.92,1)" font-size="8.8" text-anchor="middle" fill="#222" stroke="#222" stroke-width="0.2">3</text>
<rect x="58.85" y="399.2" width="1.7" height="1" fill="#555"/>
<text transform="translate(82.2,402.2) scale(0.92,1)" font-size="8.8" text-anchor="middle" fill="#222" stroke="#222" stroke-width="0.2">2</text>
<rect x="77.9" y="399.2" width="1.7" height="1" fill="#555"/>
<text transform="translate(101.25,402.2) scale(0.92,1)" font-size="8.8" text-anchor="middle" fill="#222" stroke="#222" stroke-width="0.2">1</text>
<rect x="96.95" y="399.2" width="1.7" height="1" fill="#555"/>
<text transform="translate(119.4,402.2) scale(0.92,1)" font-size="8.8" text-anchor="middle" fill="#222" stroke="#222" stroke-width="0.2">0</text>
<text transform="translate(81.3,417.4) scale(0.78,1)" font-size="8.9" font-weight="bold" text-anchor="middle" fill="#222">log [HU] mM</text>
<polyline points="43.2,318.5 62.25,318.99 71.78,321.77 81.3,321.44 90.83,322.26 100.35,323.4 109.88,323.89 119.4,324.22" fill="none" stroke="#761530" stroke-width="2" stroke-linejoin="round"/>
<polyline points="43.2,318.5 62.25,318.99 71.78,321.77 81.3,325.2 90.83,326.35 100.35,329.12 109.88,325.2 119.4,328.8" fill="none" stroke="#1c2536" stroke-width="2" stroke-linejoin="round"/>
<path d="M43.2 315.3L46.4 318.5L43.2 321.7L40 318.5Z" fill="#801b35" stroke="#330713" stroke-width="1.1"/>
<circle cx="62.25" cy="318.99" r="2.6" fill="#801b35" stroke="#330713" stroke-width="1.2"/>
<circle cx="71.78" cy="321.77" r="2.6" fill="#801b35" stroke="#330713" stroke-width="1.2"/>
<circle cx="81.3" cy="321.44" r="2.6" fill="#801b35" stroke="#330713" stroke-width="1.2"/>
<circle cx="90.83" cy="322.26" r="2.6" fill="#801b35" stroke="#330713" stroke-width="1.2"/>
<circle cx="100.35" cy="323.4" r="2.6" fill="#801b35" stroke="#330713" stroke-width="1.2"/>
<circle cx="109.88" cy="323.89" r="2.6" fill="#801b35" stroke="#330713" stroke-width="1.2"/>
<circle cx="119.4" cy="324.22" r="2.6" fill="#801b35" stroke="#330713" stroke-width="1.2"/>
<path d="M43.2 315.3L46.4 318.5L43.2 321.7L40 318.5Z" fill="#34465b" stroke="#10141e" stroke-width="1.1"/>
<circle cx="62.25" cy="318.99" r="2.6" fill="#34465b" stroke="#10141e" stroke-width="1.2"/>
<circle cx="71.78" cy="321.77" r="2.6" fill="#34465b" stroke="#10141e" stroke-width="1.2"/>
<circle cx="81.3" cy="325.2" r="2.6" fill="#34465b" stroke="#10141e" stroke-width="1.2"/>
<circle cx="90.83" cy="326.35" r="2.6" fill="#34465b" stroke="#10141e" stroke-width="1.2"/>
<circle cx="100.35" cy="329.12" r="2.6" fill="#34465b" stroke="#10141e" stroke-width="1.2"/>
<circle cx="109.88" cy="325.2" r="2.6" fill="#34465b" stroke="#10141e" stroke-width="1.2"/>
<circle cx="119.4" cy="328.8" r="2.6" fill="#34465b" stroke="#10141e" stroke-width="1.2"/>
<text x="210.5" y="308.8" textLength="51.2" lengthAdjust="spacingAndGlyphs" font-size="8.8" text-anchor="middle" fill="#111" stroke="#111" stroke-width="0.18">relapsed AML</text>
<text transform="translate(144.9,353.85) rotate(-90) scale(0.79,1)" font-size="8.6" font-weight="bold" text-anchor="middle" fill="#222">Cell growth (%)</text>
<line x1="168.9" y1="392.2" x2="172.4" y2="392.2" stroke="#111" stroke-width="1.2"/>
<text transform="translate(165.5,395.2) scale(0.92,1)" font-size="8.8" text-anchor="end" fill="#222" stroke="#222" stroke-width="0.2">0</text>
<line x1="168.9" y1="377.46" x2="172.4" y2="377.46" stroke="#111" stroke-width="1.2"/>
<text transform="translate(165.5,380.46) scale(0.92,1)" font-size="8.8" text-anchor="end" fill="#222" stroke="#222" stroke-width="0.2">20</text>
<line x1="168.9" y1="362.72" x2="172.4" y2="362.72" stroke="#111" stroke-width="1.2"/>
<text transform="translate(165.5,365.72) scale(0.92,1)" font-size="8.8" text-anchor="end" fill="#222" stroke="#222" stroke-width="0.2">40</text>
<line x1="168.9" y1="347.98" x2="172.4" y2="347.98" stroke="#111" stroke-width="1.2"/>
<text transform="translate(165.5,350.98) scale(0.92,1)" font-size="8.8" text-anchor="end" fill="#222" stroke="#222" stroke-width="0.2">60</text>
<line x1="168.9" y1="333.24" x2="172.4" y2="333.24" stroke="#111" stroke-width="1.2"/>
<text transform="translate(165.5,336.24) scale(0.92,1)" font-size="8.8" text-anchor="end" fill="#222" stroke="#222" stroke-width="0.2">80</text>
<line x1="168.9" y1="318.5" x2="172.4" y2="318.5" stroke="#111" stroke-width="1.2"/>
<text transform="translate(165.5,321.5) scale(0.92,1)" font-size="8.8" text-anchor="end" fill="#222" stroke="#222" stroke-width="0.2">100</text>
<path d="M172.4 315.5V392.2H248.6" fill="none" stroke="#111" stroke-width="1.5"/>
<text transform="translate(173.3,402.2) scale(0.92,1)" font-size="8.8" text-anchor="middle" fill="#222" stroke="#222" stroke-width="0.2">4</text>
<rect x="169" y="399.2" width="1.7" height="1" fill="#555"/>
<text transform="translate(192.35,402.2) scale(0.92,1)" font-size="8.8" text-anchor="middle" fill="#222" stroke="#222" stroke-width="0.2">3</text>
<rect x="188.05" y="399.2" width="1.7" height="1" fill="#555"/>
<text transform="translate(211.4,402.2) scale(0.92,1)" font-size="8.8" text-anchor="middle" fill="#222" stroke="#222" stroke-width="0.2">2</text>
<rect x="207.1" y="399.2" width="1.7" height="1" fill="#555"/>
<text transform="translate(230.45,402.2) scale(0.92,1)" font-size="8.8" text-anchor="middle" fill="#222" stroke="#222" stroke-width="0.2">1</text>
<rect x="226.15" y="399.2" width="1.7" height="1" fill="#555"/>
<text transform="translate(248.6,402.2) scale(0.92,1)" font-size="8.8" text-anchor="middle" fill="#222" stroke="#222" stroke-width="0.2">0</text>
<text transform="translate(210.5,417.4) scale(0.78,1)" font-size="8.9" font-weight="bold" text-anchor="middle" fill="#222">log [HU] mM</text>
<polyline points="172.4,319.04 200.98,319.04 210.5,322.21 220.03,326.44 229.55,327.5 239.07,355.43" fill="none" stroke="#761530" stroke-width="2" stroke-linejoin="round"/>
<polyline points="172.4,319.04 200.98,319.04 210.5,327.5 220.03,344.43 229.55,350.35 239.07,355.43" fill="none" stroke="#1c2536" stroke-width="2" stroke-linejoin="round"/>
<path d="M172.4 315.84L175.6 319.04L172.4 322.24L169.2 319.04Z" fill="#801b35" stroke="#330713" stroke-width="1.1"/>
<circle cx="200.98" cy="319.04" r="2.6" fill="#801b35" stroke="#330713" stroke-width="1.2"/>
<circle cx="210.5" cy="322.21" r="2.6" fill="#801b35" stroke="#330713" stroke-width="1.2"/>
<circle cx="220.03" cy="326.44" r="2.6" fill="#801b35" stroke="#330713" stroke-width="1.2"/>
<circle cx="229.55" cy="327.5" r="2.6" fill="#801b35" stroke="#330713" stroke-width="1.2"/>
<circle cx="239.07" cy="355.43" r="2.6" fill="#801b35" stroke="#330713" stroke-width="1.2"/>
<path d="M172.4 315.84L175.6 319.04L172.4 322.24L169.2 319.04Z" fill="#34465b" stroke="#10141e" stroke-width="1.1"/>
<circle cx="200.98" cy="319.04" r="2.6" fill="#34465b" stroke="#10141e" stroke-width="1.2"/>
<circle cx="210.5" cy="327.5" r="2.6" fill="#34465b" stroke="#10141e" stroke-width="1.2"/>
<circle cx="220.03" cy="344.43" r="2.6" fill="#34465b" stroke="#10141e" stroke-width="1.2"/>
<circle cx="229.55" cy="350.35" r="2.6" fill="#34465b" stroke="#10141e" stroke-width="1.2"/>
<circle cx="239.07" cy="355.43" r="2.6" fill="#34465b" stroke="#10141e" stroke-width="1.2"/>
<text x="81.3" y="475.8" textLength="55.4" lengthAdjust="spacingAndGlyphs" font-size="8.8" text-anchor="middle" fill="#111" stroke="#111" stroke-width="0.18">Healthy donor 1</text>
<text transform="translate(15.7,520.6) rotate(-90) scale(0.79,1)" font-size="8.6" font-weight="bold" text-anchor="middle" fill="#222">Cell growth (%)</text>
<line x1="39.7" y1="559.7" x2="43.2" y2="559.7" stroke="#111" stroke-width="1.2"/>
<text transform="translate(36.3,562.7) scale(0.92,1)" font-size="8.8" text-anchor="end" fill="#222" stroke="#222" stroke-width="0.2">0</text>
<line x1="39.7" y1="545.56" x2="43.2" y2="545.56" stroke="#111" stroke-width="1.2"/>
<text transform="translate(36.3,548.56) scale(0.92,1)" font-size="8.8" text-anchor="end" fill="#222" stroke="#222" stroke-width="0.2">20</text>
<line x1="39.7" y1="531.42" x2="43.2" y2="531.42" stroke="#111" stroke-width="1.2"/>
<text transform="translate(36.3,534.42) scale(0.92,1)" font-size="8.8" text-anchor="end" fill="#222" stroke="#222" stroke-width="0.2">40</text>
<line x1="39.7" y1="517.28" x2="43.2" y2="517.28" stroke="#111" stroke-width="1.2"/>
<text transform="translate(36.3,520.28) scale(0.92,1)" font-size="8.8" text-anchor="end" fill="#222" stroke="#222" stroke-width="0.2">60</text>
<line x1="39.7" y1="503.14" x2="43.2" y2="503.14" stroke="#111" stroke-width="1.2"/>
<text transform="translate(36.3,506.14) scale(0.92,1)" font-size="8.8" text-anchor="end" fill="#222" stroke="#222" stroke-width="0.2">80</text>
<line x1="39.7" y1="489" x2="43.2" y2="489" stroke="#111" stroke-width="1.2"/>
<text transform="translate(36.3,492) scale(0.92,1)" font-size="8.8" text-anchor="end" fill="#222" stroke="#222" stroke-width="0.2">100</text>
<path d="M43.2 481.5V559.7H119.4" fill="none" stroke="#111" stroke-width="1.5"/>
<text transform="translate(44.1,571.1) scale(0.92,1)" font-size="8.8" text-anchor="middle" fill="#222" stroke="#222" stroke-width="0.2">4</text>
<rect x="39.8" y="568.1" width="1.7" height="1" fill="#555"/>
<text transform="translate(59.34,571.1) scale(0.92,1)" font-size="8.8" text-anchor="middle" fill="#222" stroke="#222" stroke-width="0.2">3</text>
<rect x="55.04" y="568.1" width="1.7" height="1" fill="#555"/>
<text transform="translate(74.58,571.1) scale(0.92,1)" font-size="8.8" text-anchor="middle" fill="#222" stroke="#222" stroke-width="0.2">2</text>
<rect x="70.28" y="568.1" width="1.7" height="1" fill="#555"/>
<text transform="translate(89.82,571.1) scale(0.92,1)" font-size="8.8" text-anchor="middle" fill="#222" stroke="#222" stroke-width="0.2">1</text>
<rect x="85.52" y="568.1" width="1.7" height="1" fill="#555"/>
<text transform="translate(104.16,571.1) scale(0.92,1)" font-size="8.8" text-anchor="middle" fill="#222" stroke="#222" stroke-width="0.2">0</text>
<text transform="translate(119.4,571.1) scale(0.92,1)" font-size="8.8" text-anchor="middle" fill="#222" stroke="#222" stroke-width="0.2">1</text>
<text transform="translate(81.3,584.9) scale(0.78,1)" font-size="8.9" font-weight="bold" text-anchor="middle" fill="#222">log [HU] mM</text>
<polyline points="43.2,488.95 58.44,489.44 66.06,492.71 73.68,492.38 81.3,500.88 88.92,502.19 96.54,507.75 104.16,510.69 111.78,510.2 119.4,508.57" fill="none" stroke="#761530" stroke-width="2" stroke-linejoin="round"/>
<polyline points="43.2,488.95 58.44,489.44 66.06,491.89 73.68,495.65 81.3,500.88 88.92,502.19 96.54,503.83 104.16,505.79 111.78,504.48 119.4,503.83" fill="none" stroke="#1c2536" stroke-width="2" stroke-linejoin="round"/>
<path d="M43.2 485.75L46.4 488.95L43.2 492.15L40 488.95Z" fill="#801b35" stroke="#330713" stroke-width="1.1"/>
<circle cx="58.44" cy="489.44" r="2.6" fill="#801b35" stroke="#330713" stroke-width="1.2"/>
<circle cx="66.06" cy="492.71" r="2.6" fill="#801b35" stroke="#330713" stroke-width="1.2"/>
<circle cx="73.68" cy="492.38" r="2.6" fill="#801b35" stroke="#330713" stroke-width="1.2"/>
<circle cx="81.3" cy="500.88" r="2.6" fill="#801b35" stroke="#330713" stroke-width="1.2"/>
<circle cx="88.92" cy="502.19" r="2.6" fill="#801b35" stroke="#330713" stroke-width="1.2"/>
<circle cx="96.54" cy="507.75" r="2.6" fill="#801b35" stroke="#330713" stroke-width="1.2"/>
<circle cx="104.16" cy="510.69" r="2.6" fill="#801b35" stroke="#330713" stroke-width="1.2"/>
<circle cx="111.78" cy="510.2" r="2.6" fill="#801b35" stroke="#330713" stroke-width="1.2"/>
<circle cx="119.4" cy="508.57" r="2.6" fill="#801b35" stroke="#330713" stroke-width="1.2"/>
<path d="M43.2 485.75L46.4 488.95L43.2 492.15L40 488.95Z" fill="#34465b" stroke="#10141e" stroke-width="1.1"/>
<circle cx="58.44" cy="489.44" r="2.6" fill="#34465b" stroke="#10141e" stroke-width="1.2"/>
<circle cx="66.06" cy="491.89" r="2.6" fill="#34465b" stroke="#10141e" stroke-width="1.2"/>
<circle cx="73.68" cy="495.65" r="2.6" fill="#34465b" stroke="#10141e" stroke-width="1.2"/>
<circle cx="81.3" cy="500.88" r="2.6" fill="#34465b" stroke="#10141e" stroke-width="1.2"/>
<circle cx="88.92" cy="502.19" r="2.6" fill="#34465b" stroke="#10141e" stroke-width="1.2"/>
<circle cx="96.54" cy="503.83" r="2.6" fill="#34465b" stroke="#10141e" stroke-width="1.2"/>
<circle cx="104.16" cy="505.79" r="2.6" fill="#34465b" stroke="#10141e" stroke-width="1.2"/>
<circle cx="111.78" cy="504.48" r="2.6" fill="#34465b" stroke="#10141e" stroke-width="1.2"/>
<circle cx="119.4" cy="503.83" r="2.6" fill="#34465b" stroke="#10141e" stroke-width="1.2"/>
<text x="210.5" y="475.8" textLength="56.5" lengthAdjust="spacingAndGlyphs" font-size="8.8" text-anchor="middle" fill="#111" stroke="#111" stroke-width="0.18">Healthy donor 2</text>
<text transform="translate(144.9,520.6) rotate(-90) scale(0.79,1)" font-size="8.6" font-weight="bold" text-anchor="middle" fill="#222">Cell growth (%)</text>
<line x1="168.9" y1="559.7" x2="172.4" y2="559.7" stroke="#111" stroke-width="1.2"/>
<text transform="translate(165.5,562.7) scale(0.92,1)" font-size="8.8" text-anchor="end" fill="#222" stroke="#222" stroke-width="0.2">0</text>
<line x1="168.9" y1="545.56" x2="172.4" y2="545.56" stroke="#111" stroke-width="1.2"/>
<text transform="translate(165.5,548.56) scale(0.92,1)" font-size="8.8" text-anchor="end" fill="#222" stroke="#222" stroke-width="0.2">20</text>
<line x1="168.9" y1="531.42" x2="172.4" y2="531.42" stroke="#111" stroke-width="1.2"/>
<text transform="translate(165.5,534.42) scale(0.92,1)" font-size="8.8" text-anchor="end" fill="#222" stroke="#222" stroke-width="0.2">40</text>
<line x1="168.9" y1="517.28" x2="172.4" y2="517.28" stroke="#111" stroke-width="1.2"/>
<text transform="translate(165.5,520.28) scale(0.92,1)" font-size="8.8" text-anchor="end" fill="#222" stroke="#222" stroke-width="0.2">60</text>
<line x1="168.9" y1="503.14" x2="172.4" y2="503.14" stroke="#111" stroke-width="1.2"/>
<text transform="translate(165.5,506.14) scale(0.92,1)" font-size="8.8" text-anchor="end" fill="#222" stroke="#222" stroke-width="0.2">80</text>
<line x1="168.9" y1="489" x2="172.4" y2="489" stroke="#111" stroke-width="1.2"/>
<text transform="translate(165.5,492) scale(0.92,1)" font-size="8.8" text-anchor="end" fill="#222" stroke="#222" stroke-width="0.2">100</text>
<path d="M172.4 481.5V559.7H248.6" fill="none" stroke="#111" stroke-width="1.5"/>
<text transform="translate(173.3,571.1) scale(0.92,1)" font-size="8.8" text-anchor="middle" fill="#222" stroke="#222" stroke-width="0.2">4</text>
<rect x="169" y="568.1" width="1.7" height="1" fill="#555"/>
<text transform="translate(188.54,571.1) scale(0.92,1)" font-size="8.8" text-anchor="middle" fill="#222" stroke="#222" stroke-width="0.2">3</text>
<rect x="184.24" y="568.1" width="1.7" height="1" fill="#555"/>
<text transform="translate(203.78,571.1) scale(0.92,1)" font-size="8.8" text-anchor="middle" fill="#222" stroke="#222" stroke-width="0.2">2</text>
<rect x="199.48" y="568.1" width="1.7" height="1" fill="#555"/>
<text transform="translate(219.02,571.1) scale(0.92,1)" font-size="8.8" text-anchor="middle" fill="#222" stroke="#222" stroke-width="0.2">1</text>
<rect x="214.72" y="568.1" width="1.7" height="1" fill="#555"/>
<text transform="translate(233.36,571.1) scale(0.92,1)" font-size="8.8" text-anchor="middle" fill="#222" stroke="#222" stroke-width="0.2">0</text>
<text transform="translate(248.6,571.1) scale(0.92,1)" font-size="8.8" text-anchor="middle" fill="#222" stroke="#222" stroke-width="0.2">1</text>
<text transform="translate(210.5,584.9) scale(0.78,1)" font-size="8.9" font-weight="bold" text-anchor="middle" fill="#222">log [HU] mM</text>
<polyline points="172.4,489.11 187.64,484.21 195.26,483.72 202.88,487.32 210.5,490.26 218.12,499.25 225.74,506.11 233.36,519.19 240.98,524.58 248.6,532.43" fill="none" stroke="#761530" stroke-width="2" stroke-linejoin="round"/>
<polyline points="172.4,489.11 187.64,490.26 195.26,487.81 202.88,491.89 210.5,497.94 218.12,508.24 225.74,508.24 233.36,513.63 240.98,516.41 248.6,526.22" fill="none" stroke="#1c2536" stroke-width="2" stroke-linejoin="round"/>
<path d="M172.4 485.91L175.6 489.11L172.4 492.31L169.2 489.11Z" fill="#801b35" stroke="#330713" stroke-width="1.1"/>
<circle cx="187.64" cy="484.21" r="2.6" fill="#801b35" stroke="#330713" stroke-width="1.2"/>
<circle cx="195.26" cy="483.72" r="2.6" fill="#801b35" stroke="#330713" stroke-width="1.2"/>
<circle cx="202.88" cy="487.32" r="2.6" fill="#801b35" stroke="#330713" stroke-width="1.2"/>
<circle cx="210.5" cy="490.26" r="2.6" fill="#801b35" stroke="#330713" stroke-width="1.2"/>
<circle cx="218.12" cy="499.25" r="2.6" fill="#801b35" stroke="#330713" stroke-width="1.2"/>
<circle cx="225.74" cy="506.11" r="2.6" fill="#801b35" stroke="#330713" stroke-width="1.2"/>
<circle cx="233.36" cy="519.19" r="2.6" fill="#801b35" stroke="#330713" stroke-width="1.2"/>
<circle cx="240.98" cy="524.58" r="2.6" fill="#801b35" stroke="#330713" stroke-width="1.2"/>
<circle cx="248.6" cy="532.43" r="2.6" fill="#801b35" stroke="#330713" stroke-width="1.2"/>
<path d="M172.4 485.91L175.6 489.11L172.4 492.31L169.2 489.11Z" fill="#34465b" stroke="#10141e" stroke-width="1.1"/>
<circle cx="187.64" cy="490.26" r="2.6" fill="#34465b" stroke="#10141e" stroke-width="1.2"/>
<circle cx="195.26" cy="487.81" r="2.6" fill="#34465b" stroke="#10141e" stroke-width="1.2"/>
<circle cx="202.88" cy="491.89" r="2.6" fill="#34465b" stroke="#10141e" stroke-width="1.2"/>
<circle cx="210.5" cy="497.94" r="2.6" fill="#34465b" stroke="#10141e" stroke-width="1.2"/>
<circle cx="218.12" cy="508.24" r="2.6" fill="#34465b" stroke="#10141e" stroke-width="1.2"/>
<circle cx="225.74" cy="508.24" r="2.6" fill="#34465b" stroke="#10141e" stroke-width="1.2"/>
<circle cx="233.36" cy="513.63" r="2.6" fill="#34465b" stroke="#10141e" stroke-width="1.2"/>
<circle cx="240.98" cy="516.41" r="2.6" fill="#34465b" stroke="#10141e" stroke-width="1.2"/>
<circle cx="248.6" cy="526.22" r="2.6" fill="#34465b" stroke="#10141e" stroke-width="1.2"/>
<text x="340.9" y="475.8" textLength="55.4" lengthAdjust="spacingAndGlyphs" font-size="8.8" text-anchor="middle" fill="#111" stroke="#111" stroke-width="0.18">Healthy donor 1</text>
<text transform="translate(275.3,520.6) rotate(-90) scale(0.79,1)" font-size="8.6" font-weight="bold" text-anchor="middle" fill="#222">Cell growth (%)</text>
<line x1="299.3" y1="559.7" x2="302.8" y2="559.7" stroke="#111" stroke-width="1.2"/>
<text transform="translate(295.9,562.7) scale(0.92,1)" font-size="8.8" text-anchor="end" fill="#222" stroke="#222" stroke-width="0.2">0</text>
<line x1="299.3" y1="545.56" x2="302.8" y2="545.56" stroke="#111" stroke-width="1.2"/>
<text transform="translate(295.9,548.56) scale(0.92,1)" font-size="8.8" text-anchor="end" fill="#222" stroke="#222" stroke-width="0.2">20</text>
<line x1="299.3" y1="531.42" x2="302.8" y2="531.42" stroke="#111" stroke-width="1.2"/>
<text transform="translate(295.9,534.42) scale(0.92,1)" font-size="8.8" text-anchor="end" fill="#222" stroke="#222" stroke-width="0.2">40</text>
<line x1="299.3" y1="517.28" x2="302.8" y2="517.28" stroke="#111" stroke-width="1.2"/>
<text transform="translate(295.9,520.28) scale(0.92,1)" font-size="8.8" text-anchor="end" fill="#222" stroke="#222" stroke-width="0.2">60</text>
<line x1="299.3" y1="503.14" x2="302.8" y2="503.14" stroke="#111" stroke-width="1.2"/>
<text transform="translate(295.9,506.14) scale(0.92,1)" font-size="8.8" text-anchor="end" fill="#222" stroke="#222" stroke-width="0.2">80</text>
<line x1="299.3" y1="489" x2="302.8" y2="489" stroke="#111" stroke-width="1.2"/>
<text transform="translate(295.9,492) scale(0.92,1)" font-size="8.8" text-anchor="end" fill="#222" stroke="#222" stroke-width="0.2">100</text>
<path d="M302.8 481.5V559.7H379" fill="none" stroke="#111" stroke-width="1.5"/>
<text transform="translate(303.7,571.1) scale(0.92,1)" font-size="8.8" text-anchor="middle" fill="#222" stroke="#222" stroke-width="0.2">5</text>
<rect x="299.4" y="568.1" width="1.7" height="1" fill="#555"/>
<text transform="translate(318.94,571.1) scale(0.92,1)" font-size="8.8" text-anchor="middle" fill="#222" stroke="#222" stroke-width="0.2">4</text>
<rect x="314.64" y="568.1" width="1.7" height="1" fill="#555"/>
<text transform="translate(334.18,571.1) scale(0.92,1)" font-size="8.8" text-anchor="middle" fill="#222" stroke="#222" stroke-width="0.2">3</text>
<rect x="329.88" y="568.1" width="1.7" height="1" fill="#555"/>
<text transform="translate(349.42,571.1) scale(0.92,1)" font-size="8.8" text-anchor="middle" fill="#222" stroke="#222" stroke-width="0.2">2</text>
<rect x="345.12" y="568.1" width="1.7" height="1" fill="#555"/>
<text transform="translate(364.66,571.1) scale(0.92,1)" font-size="8.8" text-anchor="middle" fill="#222" stroke="#222" stroke-width="0.2">1</text>
<rect x="360.36" y="568.1" width="1.7" height="1" fill="#555"/>
<text transform="translate(379,571.1) scale(0.92,1)" font-size="8.8" text-anchor="middle" fill="#222" stroke="#222" stroke-width="0.2">0</text>
<text transform="translate(340.9,584.9) scale(0.78,1)" font-size="8.9" font-weight="bold" text-anchor="middle" fill="#222">log [gem] mM</text>
<polyline points="302.8,489.11 318.04,487.32 325.66,496.8 333.28,498.43 340.9,500.39 348.52,507.75 356.14,516.74 363.76,526.71 371.38,531.12 379,531.12" fill="none" stroke="#761530" stroke-width="2" stroke-linejoin="round"/>
<polyline points="302.8,489.11 318.04,487.32 325.66,496.8 333.28,494.67 340.9,503.66 348.52,499.25 356.14,514.78 363.76,519.19 371.38,523.77 379,526.22" fill="none" stroke="#1c2536" stroke-width="2" stroke-linejoin="round"/>
<path d="M302.8 485.91L306 489.11L302.8 492.31L299.6 489.11Z" fill="#801b35" stroke="#330713" stroke-width="1.1"/>
<circle cx="318.04" cy="487.32" r="2.6" fill="#801b35" stroke="#330713" stroke-width="1.2"/>
<circle cx="325.66" cy="496.8" r="2.6" fill="#801b35" stroke="#330713" stroke-width="1.2"/>
<circle cx="333.28" cy="498.43" r="2.6" fill="#801b35" stroke="#330713" stroke-width="1.2"/>
<circle cx="340.9" cy="500.39" r="2.6" fill="#801b35" stroke="#330713" stroke-width="1.2"/>
<circle cx="348.52" cy="507.75" r="2.6" fill="#801b35" stroke="#330713" stroke-width="1.2"/>
<circle cx="356.14" cy="516.74" r="2.6" fill="#801b35" stroke="#330713" stroke-width="1.2"/>
<circle cx="363.76" cy="526.71" r="2.6" fill="#801b35" stroke="#330713" stroke-width="1.2"/>
<circle cx="371.38" cy="531.12" r="2.6" fill="#801b35" stroke="#330713" stroke-width="1.2"/>
<circle cx="379" cy="531.12" r="2.6" fill="#801b35" stroke="#330713" stroke-width="1.2"/>
<path d="M302.8 485.91L306 489.11L302.8 492.31L299.6 489.11Z" fill="#34465b" stroke="#10141e" stroke-width="1.1"/>
<circle cx="318.04" cy="487.32" r="2.6" fill="#34465b" stroke="#10141e" stroke-width="1.2"/>
<circle cx="325.66" cy="496.8" r="2.6" fill="#34465b" stroke="#10141e" stroke-width="1.2"/>
<circle cx="333.28" cy="494.67" r="2.6" fill="#34465b" stroke="#10141e" stroke-width="1.2"/>
<circle cx="340.9" cy="503.66" r="2.6" fill="#34465b" stroke="#10141e" stroke-width="1.2"/>
<circle cx="348.52" cy="499.25" r="2.6" fill="#34465b" stroke="#10141e" stroke-width="1.2"/>
<circle cx="356.14" cy="514.78" r="2.6" fill="#34465b" stroke="#10141e" stroke-width="1.2"/>
<circle cx="363.76" cy="519.19" r="2.6" fill="#34465b" stroke="#10141e" stroke-width="1.2"/>
<circle cx="371.38" cy="523.77" r="2.6" fill="#34465b" stroke="#10141e" stroke-width="1.2"/>
<circle cx="379" cy="526.22" r="2.6" fill="#34465b" stroke="#10141e" stroke-width="1.2"/>
<text x="471.7" y="475.8" textLength="56.5" lengthAdjust="spacingAndGlyphs" font-size="8.8" text-anchor="middle" fill="#111" stroke="#111" stroke-width="0.18">Healthy donor 2</text>
<text transform="translate(406.1,520.6) rotate(-90) scale(0.79,1)" font-size="8.6" font-weight="bold" text-anchor="middle" fill="#222">Cell growth (%)</text>
<line x1="430.1" y1="559.7" x2="433.6" y2="559.7" stroke="#111" stroke-width="1.2"/>
<text transform="translate(426.7,562.7) scale(0.92,1)" font-size="8.8" text-anchor="end" fill="#222" stroke="#222" stroke-width="0.2">0</text>
<line x1="430.1" y1="545.56" x2="433.6" y2="545.56" stroke="#111" stroke-width="1.2"/>
<text transform="translate(426.7,548.56) scale(0.92,1)" font-size="8.8" text-anchor="end" fill="#222" stroke="#222" stroke-width="0.2">20</text>
<line x1="430.1" y1="531.42" x2="433.6" y2="531.42" stroke="#111" stroke-width="1.2"/>
<text transform="translate(426.7,534.42) scale(0.92,1)" font-size="8.8" text-anchor="end" fill="#222" stroke="#222" stroke-width="0.2">40</text>
<line x1="430.1" y1="517.28" x2="433.6" y2="517.28" stroke="#111" stroke-width="1.2"/>
<text transform="translate(426.7,520.28) scale(0.92,1)" font-size="8.8" text-anchor="end" fill="#222" stroke="#222" stroke-width="0.2">60</text>
<line x1="430.1" y1="503.14" x2="433.6" y2="503.14" stroke="#111" stroke-width="1.2"/>
<text transform="translate(426.7,506.14) scale(0.92,1)" font-size="8.8" text-anchor="end" fill="#222" stroke="#222" stroke-width="0.2">80</text>
<line x1="430.1" y1="489" x2="433.6" y2="489" stroke="#111" stroke-width="1.2"/>
<text transform="translate(426.7,492) scale(0.92,1)" font-size="8.8" text-anchor="end" fill="#222" stroke="#222" stroke-width="0.2">100</text>
<path d="M433.6 481.5V559.7H509.8" fill="none" stroke="#111" stroke-width="1.5"/>
<text transform="translate(434.5,571.1) scale(0.92,1)" font-size="8.8" text-anchor="middle" fill="#222" stroke="#222" stroke-width="0.2">5</text>
<rect x="430.2" y="568.1" width="1.7" height="1" fill="#555"/>
<text transform="translate(449.74,571.1) scale(0.92,1)" font-size="8.8" text-anchor="middle" fill="#222" stroke="#222" stroke-width="0.2">4</text>
<rect x="445.44" y="568.1" width="1.7" height="1" fill="#555"/>
<text transform="translate(464.98,571.1) scale(0.92,1)" font-size="8.8" text-anchor="middle" fill="#222" stroke="#222" stroke-width="0.2">3</text>
<rect x="460.68" y="568.1" width="1.7" height="1" fill="#555"/>
<text transform="translate(480.22,571.1) scale(0.92,1)" font-size="8.8" text-anchor="middle" fill="#222" stroke="#222" stroke-width="0.2">2</text>
<rect x="475.92" y="568.1" width="1.7" height="1" fill="#555"/>
<text transform="translate(495.46,571.1) scale(0.92,1)" font-size="8.8" text-anchor="middle" fill="#222" stroke="#222" stroke-width="0.2">1</text>
<rect x="491.16" y="568.1" width="1.7" height="1" fill="#555"/>
<text transform="translate(509.8,571.1) scale(0.92,1)" font-size="8.8" text-anchor="middle" fill="#222" stroke="#222" stroke-width="0.2">0</text>
<text transform="translate(471.7,584.9) scale(0.78,1)" font-size="8.9" font-weight="bold" text-anchor="middle" fill="#222">log [gem] mM</text>
<polyline points="433.6,489.11 448.84,497.29 456.46,501.7 464.08,505.79 471.7,510.2 479.32,519.19 486.94,522.13 494.56,525.4 502.18,526.22 509.8,525.4" fill="none" stroke="#761530" stroke-width="2" stroke-linejoin="round"/>
<polyline points="433.6,489.11 448.84,497.29 456.46,501.7 464.08,501.37 471.7,504.97 479.32,513.63 486.94,516.41 494.56,520.82 502.18,526.22 509.8,523.44" fill="none" stroke="#1c2536" stroke-width="2" stroke-linejoin="round"/>
<path d="M433.6 485.91L436.8 489.11L433.6 492.31L430.4 489.11Z" fill="#801b35" stroke="#330713" stroke-width="1.1"/>
<circle cx="448.84" cy="497.29" r="2.6" fill="#801b35" stroke="#330713" stroke-width="1.2"/>
<circle cx="456.46" cy="501.7" r="2.6" fill="#801b35" stroke="#330713" stroke-width="1.2"/>
<circle cx="464.08" cy="505.79" r="2.6" fill="#801b35" stroke="#330713" stroke-width="1.2"/>
<circle cx="471.7" cy="510.2" r="2.6" fill="#801b35" stroke="#330713" stroke-width="1.2"/>
<circle cx="479.32" cy="519.19" r="2.6" fill="#801b35" stroke="#330713" stroke-width="1.2"/>
<circle cx="486.94" cy="522.13" r="2.6" fill="#801b35" stroke="#330713" stroke-width="1.2"/>
<circle cx="494.56" cy="525.4" r="2.6" fill="#801b35" stroke="#330713" stroke-width="1.2"/>
<circle cx="502.18" cy="526.22" r="2.6" fill="#801b35" stroke="#330713" stroke-width="1.2"/>
<circle cx="509.8" cy="525.4" r="2.6" fill="#801b35" stroke="#330713" stroke-width="1.2"/>
<path d="M433.6 485.91L436.8 489.11L433.6 492.31L430.4 489.11Z" fill="#34465b" stroke="#10141e" stroke-width="1.1"/>
<circle cx="448.84" cy="497.29" r="2.6" fill="#34465b" stroke="#10141e" stroke-width="1.2"/>
<circle cx="456.46" cy="501.7" r="2.6" fill="#34465b" stroke="#10141e" stroke-width="1.2"/>
<circle cx="464.08" cy="501.37" r="2.6" fill="#34465b" stroke="#10141e" stroke-width="1.2"/>
<circle cx="471.7" cy="504.97" r="2.6" fill="#34465b" stroke="#10141e" stroke-width="1.2"/>
<circle cx="479.32" cy="513.63" r="2.6" fill="#34465b" stroke="#10141e" stroke-width="1.2"/>
<circle cx="486.94" cy="516.41" r="2.6" fill="#34465b" stroke="#10141e" stroke-width="1.2"/>
<circle cx="494.56" cy="520.82" r="2.6" fill="#34465b" stroke="#10141e" stroke-width="1.2"/>
<circle cx="502.18" cy="526.22" r="2.6" fill="#34465b" stroke="#10141e" stroke-width="1.2"/>
<circle cx="509.8" cy="523.44" r="2.6" fill="#34465b" stroke="#10141e" stroke-width="1.2"/>
<line x1="110" y1="426.1" x2="129.7" y2="426.1" stroke="#761530" stroke-width="1.5"/>
<circle cx="119.85" cy="426.1" r="2.45" fill="#801b35" stroke="#330713" stroke-width="1.2"/>
<line x1="110" y1="436.7" x2="129.7" y2="436.7" stroke="#1c2536" stroke-width="1.5"/>
<circle cx="119.85" cy="436.7" r="2.45" fill="#34465b" stroke="#10141e" stroke-width="1.2"/>
<text x="133.1" y="429" font-size="8" fill="#111" stroke="#111" stroke-width="0.15">DMSO</text>
<text x="133.1" y="439" font-size="8" textLength="44.8" lengthAdjust="spacingAndGlyphs" fill="#111" stroke="#111" stroke-width="0.15">5 µM VE-821</text>
<line x1="371.9" y1="271.1" x2="390.9" y2="271.1" stroke="#761530" stroke-width="1.5"/>
<circle cx="381.4" cy="271.1" r="2.45" fill="#801b35" stroke="#330713" stroke-width="1.2"/>
<line x1="371.9" y1="281.85" x2="390.9" y2="281.85" stroke="#1c2536" stroke-width="1.5"/>
<circle cx="381.4" cy="281.85" r="2.45" fill="#34465b" stroke="#10141e" stroke-width="1.2"/>
<text x="394.7" y="274" font-size="8" fill="#111" stroke="#111" stroke-width="0.15">DMSO</text>
<text x="394.7" y="284.15" font-size="8" textLength="44.8" lengthAdjust="spacingAndGlyphs" fill="#111" stroke="#111" stroke-width="0.15">5 µM VE-821</text>
<line x1="114" y1="596.9" x2="133.7" y2="596.9" stroke="#761530" stroke-width="1.5"/>
<circle cx="123.85" cy="596.9" r="2.45" fill="#801b35" stroke="#330713" stroke-width="1.2"/>
<line x1="114" y1="607.3" x2="133.7" y2="607.3" stroke="#1c2536" stroke-width="1.5"/>
<circle cx="123.85" cy="607.3" r="2.45" fill="#34465b" stroke="#10141e" stroke-width="1.2"/>
<text x="137.1" y="599.8" font-size="8" fill="#111" stroke="#111" stroke-width="0.15">DMSO</text>
<text x="137.1" y="609.6" font-size="8" textLength="44.8" lengthAdjust="spacingAndGlyphs" fill="#111" stroke="#111" stroke-width="0.15">5 µM VE-821</text>
<line x1="371.9" y1="597" x2="390.9" y2="597" stroke="#761530" stroke-width="1.5"/>
<circle cx="381.4" cy="597" r="2.45" fill="#801b35" stroke="#330713" stroke-width="1.2"/>
<line x1="371.9" y1="607.3" x2="390.9" y2="607.3" stroke="#1c2536" stroke-width="1.5"/>
<circle cx="381.4" cy="607.3" r="2.45" fill="#34465b" stroke="#10141e" stroke-width="1.2"/>
<text x="394.7" y="599.9" font-size="8" fill="#111" stroke="#111" stroke-width="0.15">DMSO</text>
<text x="394.7" y="609.6" font-size="8" textLength="44.8" lengthAdjust="spacingAndGlyphs" fill="#111" stroke="#111" stroke-width="0.15">5 µM VE-821</text>
<text x="7.7" y="16.4" font-size="11.7" font-weight="bold" fill="#000" stroke="#000" stroke-width="0.75">A</text>
<text x="267.7" y="16.4" font-size="11.7" font-weight="bold" fill="#000" stroke="#000" stroke-width="0.75">B</text>
<text x="7.6" y="466.9" font-size="11.7" font-weight="bold" fill="#000" stroke="#000" stroke-width="0.75">C</text>
<text x="267.4" y="466.7" font-size="11.7" font-weight="bold" fill="#000" stroke="#000" stroke-width="0.75">D</text>
<rect x="0.8" y="0.9" width="518.2" height="617" fill="none" stroke="#000" stroke-width="1.8"/>
</svg>
</body></html>
